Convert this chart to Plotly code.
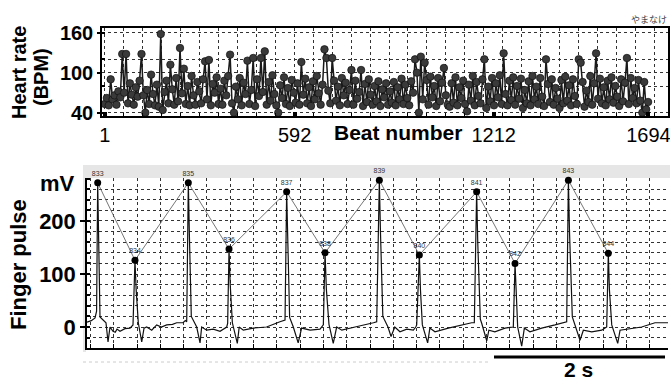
import plotly.graph_objects as go

# ---------------- data ----------------
# Heart rate (BPM), sampled every 6th beat (beat numbers 1, 7, 13, ...)
beat_step = 6
hr = [53, 62, 51, 90, 60, 66, 52, 72, 63, 128, 70, 128, 54, 84, 67, 52, 78, 64, 88, 128,
      66, 40, 74, 53, 97, 68, 51, 82, 49, 158, 44, 71, 88, 54, 112, 75, 52, 92, 57, 137,
      69, 106, 53, 80, 51, 95, 66, 52, 86, 72, 54, 90, 117, 60, 119, 51, 83, 70, 93, 53,
      76, 52, 88, 66, 95, 127, 54, 40, 79, 60, 92, 51, 85, 68, 118, 53, 74, 122, 50, 90,
      65, 122, 71, 132, 52, 86, 58, 96, 68, 51, 40, 81, 62, 93, 53, 77, 50, 89, 70, 55,
      84, 52, 116, 67, 91, 54, 78, 50, 87, 60, 95, 69, 52, 82, 135, 122, 73, 54, 122, 88,
      58, 79, 51, 92, 66, 85, 53, 74, 104, 52, 88, 61, 71, 104, 50, 83, 56, 90, 67, 52,
      80, 57, 87, 50, 75, 63, 84, 52, 72, 55, 86, 51, 78, 60, 91, 53, 82, 62, 51, 87,
      70, 120, 100, 40, 124, 60, 115, 89, 52, 94, 63, 80, 50, 92, 57, 85, 107, 66, 52, 49,
      84, 55, 93, 51, 78, 62, 88, 53, 42, 82, 58, 95, 51, 86, 65, 54, 90, 120, 47, 79,
      57, 92, 51, 84, 63, 96, 53, 129, 68, 51, 88, 59, 93, 52, 80, 61, 91, 47, 74, 54,
      87, 51, 95, 60, 79, 53, 92, 64, 50, 120, 83, 56, 90, 52, 77, 61, 47, 89, 54, 94,
      58, 81, 51, 90, 65, 53, 120, 115, 86, 49, 73, 56, 95, 52, 84, 129, 61, 91, 54, 78,
      51, 88, 60, 93, 55, 80, 64, 50, 90, 57, 85, 122, 53, 92, 62, 77, 54, 89, 58, 40,
      86, 45, 56]
beats = [1 + beat_step * i for i in range(len(hr))]
beat_ticks = [1, 592, 1212, 1694]
hr_ticks = [40, 100, 160]

# Finger pulse trace (time s, mV)
pulse_t = [0.00, 0.05, 0.094, 0.112, 0.125, 0.135, 0.152, 0.222, 0.246, 0.269, 0.304, 0.33, 0.351, 0.386, 0.444, 0.503, 0.530,
           0.538, 0.561, 0.575, 0.60, 0.64, 0.667, 0.698, 0.757, 0.815, 0.87, 0.932, 1.00, 1.049, 1.123, 1.15,
           1.166, 1.185, 1.198, 1.22, 1.283, 1.322, 1.341, 1.40, 1.477, 1.556, 1.634,
           1.645, 1.661, 1.675, 1.70, 1.758, 1.78, 1.828, 1.945, 2.10, 2.257, 2.30,
           2.316, 2.335, 2.348, 2.37, 2.413, 2.47, 2.51, 2.61, 2.725, 2.755,
           2.764, 2.784, 2.80, 2.83, 2.88, 2.92, 2.98, 3.135, 3.29, 3.35,
           3.388, 3.419, 3.432, 3.46, 3.52, 3.556, 3.60, 3.66, 3.74, 3.817, 3.845,
           3.856, 3.887, 3.90, 3.922, 3.984, 4.01, 4.07, 4.226, 4.382, 4.499,
           4.53, 4.557, 4.57, 4.60, 4.616, 4.675, 4.70, 4.77, 4.889, 4.967,
           4.986, 5.006, 5.02, 5.037, 5.084, 5.115, 5.18, 5.318, 5.474, 5.59,
           5.61, 5.63, 5.643, 5.676, 5.727, 5.766, 5.805, 5.903, 6.02, 6.06,
           6.078, 6.097, 6.11, 6.137, 6.207, 6.234, 6.331, 6.487, 6.643, 6.795]
pulse_mv = [9, 12, 17, 30, 272, 180, 19, 8, -28, 0, -8, -10, -4, -8, -3, -2, 2,
            4, 126, 70, 8, -28, -2, 0, -6, 4, 0, 4, 5, 8, 8, 12,
            10, 272, 170, 20, 0, -30, 0, -6, -4, -8, 0,
            7, 147, 80, 8, -31, 0, -6, -2, 0, 10, 12,
            13, 255, 160, 18, 0, -30, -2, -6, -4, 2,
            4, 140, 70, 5, -31, 0, -6, 0, 5, 8,
            10, 277, 180, 20, 0, -18, 0, -9, -4, -6, 0,
            4, 136, 70, 4, -30, -2, -9, -2, 4, 8,
            8, 255, 160, 15, 7, -26, -6, -9, -2, 0,
            0, 120, 60, 0, -36, -2, -9, -2, 4, 8,
            10, 277, 180, 19, -6, -25, -6, -9, -6, -2,
            0, 139, 70, 4, -31, -6, -4, 0, 8, 8]

# Detected pulse peaks
peak_t = [0.125, 0.561, 1.185, 1.661, 2.335, 2.784, 3.419, 3.887, 4.557, 5.006, 5.63, 6.097]
peak_mv = [272, 126, 272, 147, 255, 140, 277, 136, 255, 120, 277, 139]
peak_labels = ["833", "834", "835", "836", "837", "838", "839", "840", "841", "842", "843", "844"]
pulse_ticks = [0, 100, 200]

FONT = "Liberation Sans, Arial, sans-serif"
W, H = 670, 380


def px(x):
    return x / W


def py(y):
    return 1 - y / H


fig = go.Figure()

fig.add_trace(go.Scatter(
    x=beats, y=hr, mode="lines+markers", xaxis="x", yaxis="y",
    line=dict(color="#1a1a1a", width=1.5),
    marker=dict(size=7.5, color="#3a3a3a", line=dict(color="#111111", width=0.7)),
    hoverinfo="skip"))

fig.add_trace(go.Scatter(
    x=pulse_t, y=pulse_mv, mode="lines", xaxis="x2", yaxis="y2",
    line=dict(color="#111111", width=1.2), hoverinfo="skip"))

fig.add_trace(go.Scatter(
    x=peak_t, y=peak_mv, mode="lines+markers+text", xaxis="x2", yaxis="y2",
    text=peak_labels, textposition="top center",
    textfont=dict(family=FONT, size=7, color="#333333"),
    line=dict(color="#666666", width=0.9),
    marker=dict(size=7, color="#000000"), cliponaxis=False, hoverinfo="skip"))

grid = dict(gridcolor="#333333", griddash="dot", gridwidth=1)

fig.update_layout(
    width=W, height=H, margin=dict(l=0, r=0, t=0, b=0),
    paper_bgcolor="white", plot_bgcolor="white", showlegend=False,
    font=dict(family=FONT, color="black"),
    xaxis=dict(domain=[px(102), px(668)], anchor="y", range=[-8, 1755],
               tickvals=beat_ticks, ticktext=[str(v) for v in beat_ticks],
               tickfont=dict(size=20), ticks="inside", ticklen=4, tickwidth=4,
               tickcolor="black", showline=True, linecolor="black", linewidth=2,
               mirror=True, showgrid=False, zeroline=False, automargin=False,
               ticklabeloverflow="allow",
               minor=dict(dtick=59, tick0=1, showgrid=True, ticks="inside",
                          ticklen=3, tickwidth=1, tickcolor="black", **grid)),
    yaxis=dict(domain=[py(116), py(28)], anchor="x", range=[35, 167],
               tickvals=hr_ticks, tickfont=dict(size=20, weight="bold"),
               ticks="outside", ticklen=3, tickwidth=1.5, tickcolor="black",
               showline=True, linecolor="black", linewidth=1.5, mirror=True,
               showgrid=True, zeroline=False, automargin=False,
               minor=dict(dtick=40, tick0=40, showgrid=True, ticks="inside",
                          ticklen=3, tickcolor="black", **grid), **grid),
    xaxis2=dict(domain=[px(87), px(668)], anchor="y2", range=[0, 6.795],
                showticklabels=False, ticks="inside", ticklen=4, tickwidth=1,
                tickcolor="black", dtick=0.2725, tick0=0.04,
                showline=True, linecolor="black", linewidth=2, mirror=False,
                showgrid=True, zeroline=False, automargin=False, **grid),
    yaxis2=dict(domain=[py(348), py(178)], anchor="x2", range=[-39.6, 281.1],
                tickvals=pulse_ticks, tickfont=dict(size=22, weight="bold"),
                ticks="outside", ticklen=5, tickwidth=1.5, tickcolor="black",
                showline=True, linecolor="black", linewidth=1.5,
                showgrid=True, zeroline=False, automargin=False,
                minor=dict(dtick=20, tick0=0, showgrid=True, ticks="inside",
                           ticklen=3, tickcolor="black", **grid), **grid),
)

# decorative frame of the pulse recording window (header band + left strip), scale bar
fig.add_shape(type="rect", xref="paper", yref="paper",
              x0=px(83), x1=1.0, y0=py(178), y1=py(165),
              fillcolor="#e6e6e6", line=dict(width=0), layer="below")
fig.add_shape(type="rect", xref="paper", yref="paper",
              x0=px(83), x1=px(86), y0=py(352), y1=py(178),
              fillcolor="#e6e6e6", line=dict(width=0), layer="below")
fig.add_shape(type="line", xref="paper", yref="paper",
              x0=px(83), x1=px(490), y0=py(362), y1=py(362),
              line=dict(color="#cccccc", width=1, dash="dot"))
fig.add_shape(type="line", xref="x2", yref="paper",
              x0=4.76, x1=6.76, y0=py(357), y1=py(357),
              line=dict(color="black", width=3))

ann = [
    dict(text="Heart rate", x=px(19), y=py(73), textangle=-90, size=20),
    dict(text="(BPM)", x=px(41), y=py(77), textangle=-90, size=20),
    dict(text="Finger pulse", x=px(18), y=py(265), textangle=-90, size=22),
    dict(text="<b>Beat number</b>", x=px(398), y=py(132), textangle=0, size=21),
    dict(text="<b>mV</b>", x=px(57), y=py(184), textangle=0, size=22),
    dict(text="<b>2 s</b>", x=px(578), y=py(369), textangle=0, size=21),
]
for a in ann:
    fig.add_annotation(text=a["text"], x=a["x"], y=a["y"], xref="paper", yref="paper",
                       textangle=a["textangle"], showarrow=False,
                       xanchor="center", yanchor="middle",
                       font=dict(family=FONT, size=a["size"], color="black",
                                 weight="bold" if a["textangle"] else "normal"))
fig.add_annotation(text="やまなけ", x=px(669), y=py(19), xref="paper", yref="paper",
                   showarrow=False, xanchor="right", yanchor="middle",
                   font=dict(family="Noto Sans CJK JP", size=9, color="#444444"))

fig.write_html("out.html")
